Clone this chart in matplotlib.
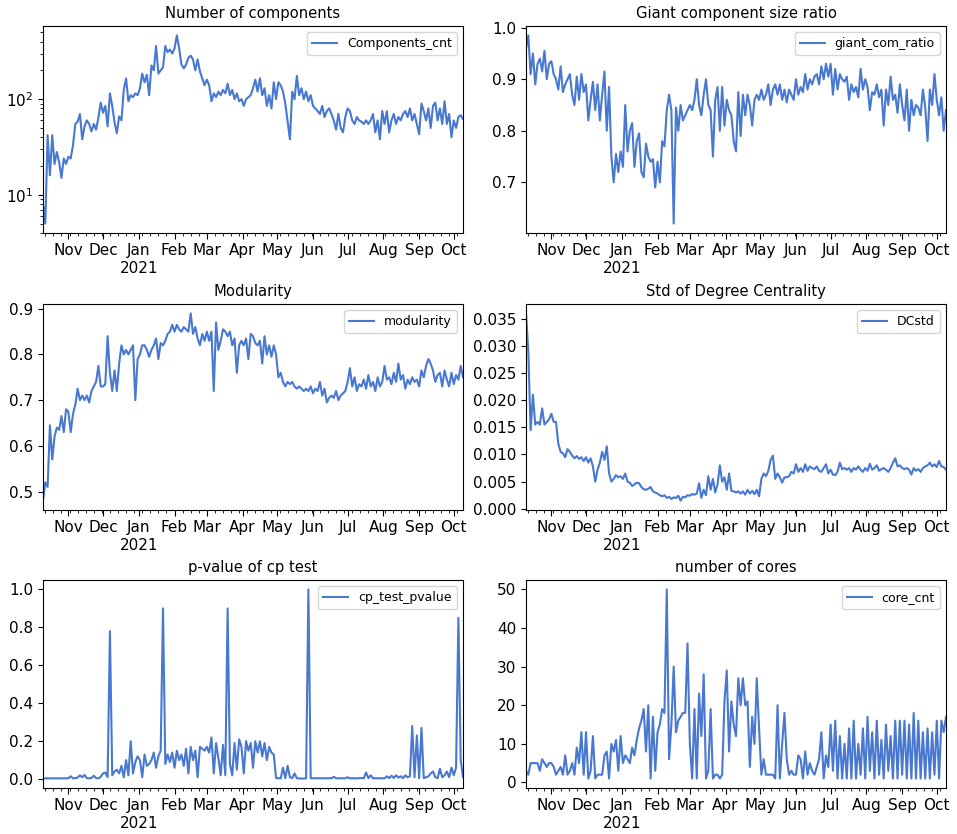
import matplotlib
matplotlib.use("Agg")
import matplotlib.pyplot as plt
import matplotlib.dates as mdates
from matplotlib.ticker import FuncFormatter, MultipleLocator, FormatStrFormatter
import pandas as pd

# ---- data (one sample every 2 days, 2020-10-10 .. 2021-10-09) ----
start_date = "2020-10-10"
n_points = 183

components_cnt = [
    8, 5, 42, 16, 42, 21, 28, 22, 15, 24, 21,
    25, 24, 33, 55, 58, 70, 38, 52, 60, 55, 46, 55, 48, 64, 92,
    72, 85, 52, 115, 85, 57, 44, 66, 60, 125, 165, 95, 110, 105, 115, 110,
    130, 185, 150, 180, 110, 225, 200, 360, 185, 200, 215, 360, 310, 330, 300,
    340, 464, 340, 230, 210, 230, 270, 285, 260, 200, 260, 195, 165, 140,
    160, 140, 95, 115, 105, 120, 110, 125, 115, 145, 110, 125, 100, 115, 95, 100,
    85, 100, 105, 110, 130, 160, 120, 165, 110, 130, 85, 110, 80, 150, 100,
    150, 140, 120, 90, 58, 38, 120, 100, 175, 110, 130, 100, 120, 95, 110,
    85, 80, 75, 70, 85, 65, 75, 80, 70, 60, 48, 70, 50, 45, 65,
    80, 75, 60, 55, 65, 60, 58, 55, 60, 55, 60, 70, 45, 60, 38, 75,
    55, 75, 45, 60, 70, 55, 65, 60, 70, 75, 65, 80, 60, 70, 55,
    43, 90, 75, 60, 80, 50, 85, 92, 60, 80, 55, 95, 55, 70, 40,
    60, 50, 65, 68, 62,
]

giant_com_ratio = [
    0.96, 0.985, 0.91, 0.95, 0.89, 0.93, 0.94, 0.915, 0.955, 0.90, 0.93,
    0.935, 0.91, 0.90, 0.88, 0.925, 0.875, 0.89, 0.90, 0.91, 0.87, 0.85, 0.905, 0.86, 0.91, 0.875,
    0.89, 0.82, 0.86, 0.895, 0.84, 0.89, 0.82, 0.87, 0.915, 0.80, 0.885, 0.75, 0.70, 0.755, 0.72, 0.76,
    0.73, 0.85, 0.76, 0.80, 0.815, 0.73, 0.78, 0.795, 0.72, 0.71, 0.775, 0.75, 0.74, 0.745, 0.69,
    0.74, 0.70, 0.78, 0.77, 0.84, 0.87, 0.84, 0.62, 0.845, 0.80, 0.85, 0.82, 0.83, 0.84,
    0.85, 0.84, 0.86, 0.90, 0.85, 0.83, 0.87, 0.90, 0.85, 0.84, 0.75, 0.86, 0.885, 0.80, 0.885, 0.81,
    0.86, 0.84, 0.83, 0.78, 0.76, 0.875, 0.79, 0.87, 0.83, 0.87, 0.85, 0.81, 0.86, 0.87, 0.86,
    0.88, 0.86, 0.87, 0.89, 0.85, 0.88, 0.89, 0.87, 0.89, 0.86, 0.88, 0.855, 0.88, 0.87, 0.86,
    0.90, 0.87, 0.885, 0.875, 0.91, 0.88, 0.90, 0.89, 0.905, 0.91, 0.89, 0.925, 0.90, 0.93, 0.905,
    0.93, 0.87, 0.92, 0.88, 0.91, 0.90, 0.895, 0.905, 0.86, 0.89, 0.875, 0.885, 0.865, 0.92, 0.88, 0.90,
    0.885, 0.84, 0.875, 0.87, 0.89, 0.865, 0.88, 0.81, 0.88, 0.85, 0.905, 0.86, 0.87, 0.835, 0.89,
    0.85, 0.82, 0.88, 0.80, 0.86, 0.83, 0.85, 0.845, 0.83, 0.88, 0.845, 0.78, 0.88, 0.85, 0.91,
    0.86, 0.83, 0.865, 0.80, 0.84,
]

modularity = [
    0.48, 0.52, 0.51, 0.645, 0.57, 0.62, 0.64, 0.635, 0.665, 0.63, 0.68,
    0.675, 0.63, 0.67, 0.69, 0.725, 0.70, 0.71, 0.70, 0.71, 0.695, 0.72, 0.73, 0.74, 0.775, 0.73,
    0.73, 0.735, 0.84, 0.76, 0.72, 0.765, 0.72, 0.78, 0.82, 0.80, 0.81, 0.80, 0.81, 0.82, 0.70, 0.79,
    0.80, 0.82, 0.82, 0.81, 0.795, 0.81, 0.82, 0.835, 0.79, 0.825, 0.82, 0.83, 0.845, 0.85, 0.865,
    0.85, 0.865, 0.855, 0.85, 0.86, 0.855, 0.85, 0.89, 0.845, 0.86, 0.835, 0.82, 0.845, 0.83,
    0.85, 0.83, 0.85, 0.72, 0.87, 0.81, 0.83, 0.855, 0.85, 0.84, 0.85, 0.82, 0.835, 0.76, 0.82, 0.83,
    0.82, 0.835, 0.79, 0.845, 0.84, 0.825, 0.82, 0.83, 0.78, 0.84, 0.80, 0.82, 0.795, 0.82, 0.80,
    0.75, 0.76, 0.74, 0.73, 0.74, 0.735, 0.74, 0.73, 0.725, 0.73, 0.725, 0.72, 0.725, 0.72, 0.73,
    0.715, 0.725, 0.72, 0.74, 0.71, 0.725, 0.695, 0.705, 0.71, 0.705, 0.72, 0.70, 0.71, 0.715, 0.72,
    0.74, 0.77, 0.73, 0.75, 0.72, 0.735, 0.73, 0.745, 0.725, 0.755, 0.73, 0.74, 0.72, 0.75, 0.73, 0.74,
    0.775, 0.745, 0.75, 0.735, 0.76, 0.74, 0.78, 0.745, 0.755, 0.725, 0.745, 0.735, 0.75, 0.74, 0.745,
    0.73, 0.765, 0.75, 0.775, 0.79, 0.78, 0.765, 0.74, 0.755, 0.76, 0.73, 0.765, 0.745, 0.73, 0.76,
    0.735, 0.755, 0.745, 0.775, 0.75,
]

dc_std = [
    0.036, 0.029, 0.0145, 0.021, 0.0155, 0.016, 0.0155, 0.0185, 0.0155, 0.016, 0.0165,
    0.0175, 0.016, 0.016, 0.012, 0.0105, 0.0102, 0.0095, 0.011, 0.0105, 0.0098, 0.0093, 0.0097, 0.0092, 0.0095, 0.0088,
    0.0095, 0.0085, 0.0093, 0.0078, 0.005, 0.0072, 0.0085, 0.0105, 0.009, 0.0115, 0.0065, 0.005, 0.0055, 0.0062, 0.0058, 0.006,
    0.0055, 0.0065, 0.005, 0.0048, 0.0042, 0.0045, 0.0048, 0.0047, 0.004, 0.0036, 0.0035, 0.0037, 0.004, 0.0032, 0.003,
    0.0028, 0.0025, 0.0023, 0.0025, 0.002, 0.0022, 0.0018, 0.0021, 0.002, 0.0024, 0.0015, 0.0022, 0.0021, 0.0025,
    0.0024, 0.0027, 0.0026, 0.0028, 0.0047, 0.002, 0.0035, 0.0025, 0.006, 0.0035, 0.0055, 0.003, 0.0045, 0.008, 0.005, 0.0058,
    0.0035, 0.0065, 0.0033, 0.0032, 0.003, 0.0032, 0.0028, 0.0032, 0.0026, 0.0035, 0.0028, 0.0033, 0.0027, 0.0035, 0.0023,
    0.0055, 0.0065, 0.006, 0.007, 0.009, 0.0098, 0.0055, 0.0065, 0.0058, 0.0048, 0.0058, 0.0058, 0.006, 0.0068, 0.0065,
    0.0082, 0.0068, 0.0075, 0.0068, 0.0082, 0.007, 0.0078, 0.0075, 0.0073, 0.0078, 0.007, 0.0068, 0.0075, 0.0082, 0.0065,
    0.0072, 0.0063, 0.0062, 0.0068, 0.0085, 0.0073, 0.0075, 0.0072, 0.0075, 0.0068, 0.0075, 0.0072, 0.0078, 0.0072, 0.0068, 0.0075,
    0.007, 0.0083, 0.0072, 0.0075, 0.008, 0.007, 0.0073, 0.0075, 0.0072, 0.0068, 0.0075, 0.0085, 0.0093, 0.0078, 0.008,
    0.0075, 0.0073, 0.0075, 0.0072, 0.0063, 0.0075, 0.007, 0.0073, 0.0068, 0.0075, 0.0078, 0.008, 0.0085, 0.0078, 0.0082,
    0.0077, 0.0088, 0.0078, 0.0077, 0.0072,
]

cp_test_pvalue = [
    0.004, 0.004, 0.004, 0.004, 0.004, 0.004, 0.004, 0.004, 0.004, 0.004, 0.004,
    0.004, 0.015, 0.004, 0.005, 0.008, 0.02, 0.01, 0.022, 0.005, 0.004, 0.006, 0.018, 0.005, 0.004, 0.012,
    0.03, 0.035, 0.01, 0.78, 0.02, 0.04, 0.05, 0.03, 0.07, 0.01, 0.1, 0.02, 0.2, 0.03, 0.09, 0.12,
    0.1, 0.01, 0.13, 0.07, 0.08, 0.1, 0.14, 0.06, 0.12, 0.15, 0.9, 0.08, 0.13, 0.09, 0.14,
    0.06, 0.15, 0.1, 0.13, 0.07, 0.16, 0.03, 0.17, 0.1, 0.15, 0.01, 0.17, 0.16, 0.15,
    0.17, 0.14, 0.22, 0.03, 0.19, 0.11, 0.02, 0.18, 0.02, 0.9, 0.08, 0.02, 0.19, 0.05, 0.21, 0.17,
    0.03, 0.2, 0.15, 0.19, 0.06, 0.2, 0.14, 0.2, 0.12, 0.19, 0.1, 0.17, 0.14, 0.13, 0.005,
    0.005, 0.004, 0.06, 0.005, 0.07, 0.01, 0.005, 0.03, 0.004, 0.004, 0.003, 0.003, 0.004, 1.0, 0.005,
    0.005, 0.004, 0.005, 0.004, 0.004, 0.005, 0.004, 0.005, 0.004, 0.012, 0.005, 0.004, 0.005, 0.004, 0.004,
    0.01, 0.004, 0.005, 0.004, 0.004, 0.005, 0.006, 0.004, 0.035, 0.005, 0.02, 0.004, 0.005, 0.004, 0.005, 0.004,
    0.004, 0.015, 0.005, 0.018, 0.006, 0.02, 0.008, 0.015, 0.005, 0.02, 0.01, 0.015, 0.28, 0.01, 0.23,
    0.005, 0.27, 0.005, 0.01, 0.015, 0.03, 0.04, 0.01, 0.005, 0.055, 0.01, 0.02, 0.04, 0.01, 0.06,
    0.02, 0.06, 0.85, 0.1, 0.01,
]

core_cnt = [
    3, 2, 5, 5, 5, 5, 3, 6, 5, 4, 5,
    5, 4, 2, 3, 4, 2, 7, 2, 3, 5, 2, 9, 5, 13, 2,
    13, 1, 3, 12, 1, 2, 2, 2, 7, 8, 1, 10, 8, 11, 3, 12,
    5, 7, 6, 5, 9, 7, 11, 14, 16, 19, 8, 20, 1, 17, 3,
    13, 15, 19, 18, 50, 6, 15, 30, 13, 16, 17, 18, 18, 36,
    10, 1, 19, 1, 23, 12, 28, 1, 3, 19, 1, 2, 2, 1, 2, 21,
    29, 8, 21, 15, 12, 27, 20, 27, 20, 21, 4, 17, 10, 27, 14,
    2, 6, 2, 2, 2, 2, 1, 20, 1, 10, 18, 6, 2, 3, 2,
    2, 7, 6, 1, 8, 2, 5, 3, 2, 4, 6, 13, 1, 7, 4,
    15, 3, 16, 1, 12, 1, 10, 1, 14, 1, 16, 1, 10, 2, 14, 1,
    17, 3, 13, 1, 16, 2, 11, 1, 15, 3, 12, 1, 16, 1, 16,
    2, 16, 1, 15, 1, 18, 1, 16, 1, 13, 1, 14, 1, 13, 2,
    16, 1, 16, 13, 17,
]

titles = ["Number of components", "Giant component size ratio", "Modularity",
          "Std of Degree Centrality", "p-value of cp test", "number of cores"]
labels = ["Components_cnt", "giant_com_ratio", "modularity",
          "DCstd", "cp_test_pvalue", "core_cnt"]
series = [components_cnt, giant_com_ratio, modularity, dc_std, cp_test_pvalue, core_cnt]

for s, lab in zip(series, labels):
    assert len(s) == n_points, (lab, len(s))

dates = pd.date_range(start_date, periods=n_points, freq="2D")

LINE_COLOR = "#4878d0"
W, H = 957, 834
fig = plt.figure(figsize=(W / 100, H / 100), dpi=100)

col_left = [43, 526]
rows = [(26, 233), (304, 510), (580, 788)]
ax_w = 420


def month_fmt(x, pos=None):
    d = mdates.num2date(x)
    if d.month == 1:
        return d.strftime("%b\n%Y")
    return d.strftime("%b")


for k, (s, title, lab) in enumerate(zip(series, titles, labels)):
    r, c = divmod(k, 2)
    top, bot = rows[r]
    left = col_left[c]
    ax = fig.add_axes([left / W, 1 - bot / H, ax_w / W, (bot - top) / H])
    ax.plot(dates, s, color=LINE_COLOR, lw=1.5, label=lab)
    if k == 0:
        ax.set_yscale("log")
    if k == 3:
        ax.yaxis.set_major_locator(MultipleLocator(0.005))
        ax.yaxis.set_major_formatter(FormatStrFormatter("%.3f"))
    ax.set_xlim(dates[0], dates[-1])
    ax.xaxis.set_major_locator(mdates.MonthLocator())
    ax.xaxis.set_major_formatter(FuncFormatter(month_fmt))
    ax.xaxis.set_minor_locator(mdates.WeekdayLocator(byweekday=mdates.MO))
    ax.xaxis.set_minor_formatter(FuncFormatter(lambda x, pos=None: ""))
    for t in ax.get_xticklabels():
        t.set_rotation(0)
        t.set_ha("center")
    ax.tick_params(axis="both", which="major", labelsize=11)
    ax.tick_params(axis="x", which="major", length=4)
    ax.set_title(title, fontsize=10.6)
    ax.legend(loc="upper right", fontsize=9)

fig.savefig("out.png", dpi=100)
